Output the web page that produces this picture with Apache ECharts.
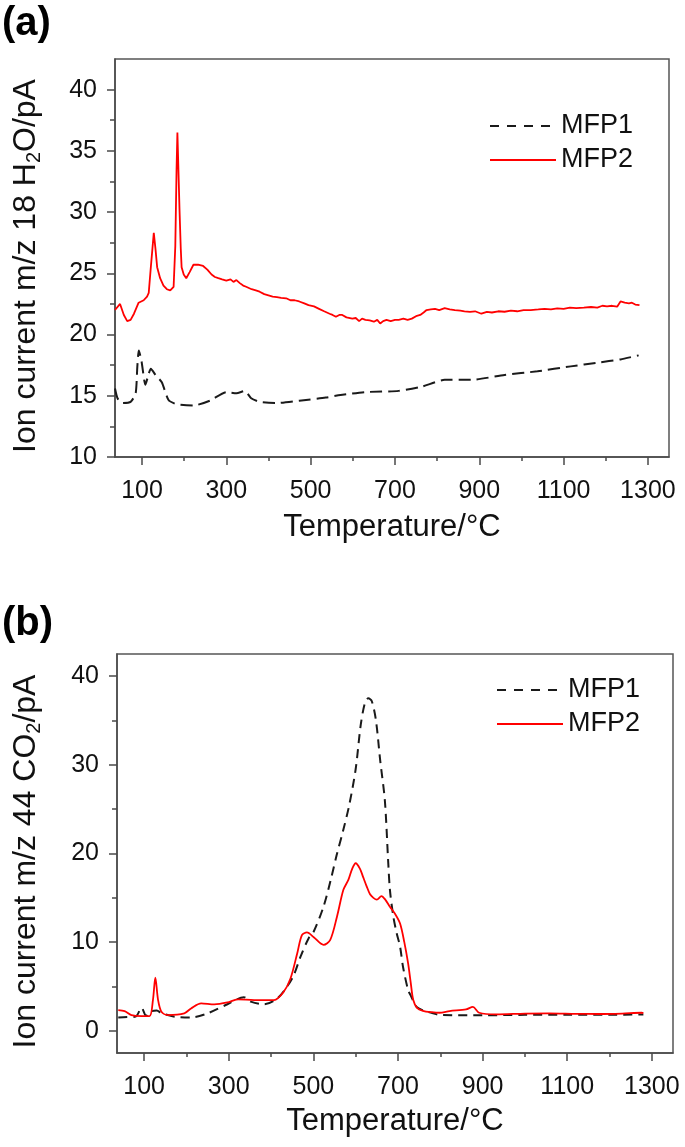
<!DOCTYPE html>
<html>
<head>
<meta charset="utf-8">
<script src="https://cdn.jsdelivr.net/npm/echarts@6/dist/echarts.min.js"></script>
<style>
html,body{margin:0;padding:0;background:#fff;}
#c{width:685px;height:1147px;}
</style>
</head>
<body>
<div id="c"></div>
<script>
// ---------- data ----------
// (a) m/z 18 H2O
const tempA1 = [36,42,53,73,85,89,92.5,99,108,116,121,132,147,163,183,222,261,300,324,344,359,379,418,473,536,571,630,709,764,818,881,960,1038,1117,1180,1235,1278];
const ionA1  = [15.6,14.8,14.4,14.5,15.2,17.4,18.7,17.8,15.9,16.8,17.2,16.7,16.1,14.65,14.3,14.2,14.6,15.3,15.2,15.4,14.8,14.5,14.4,14.6,14.85,15.06,15.3,15.4,15.74,16.3,16.3,16.7,17.0,17.4,17.7,17.97,18.3];

const tempA2 = [36,48,57,65,73,81,92,104,112,116,121,128,132,136,143,151,159,167,175,179,182,184,186,189,192,194,199,205,213,222,233,245,255,265,273,281,290,300,310,317,324,332,340,347,360,370,379,390,400,410,420,430,442,452,462,473,485,495,508,520,532,545,552,560,568,575,585,599,607,615,622,630,640,650,658,665,672,680,690,700,709,720,730,740,750,760,768,775,785,795,805,818,830,842,855,865,878,890,905,918,930,945,960,975,990,1005,1022,1040,1055,1070,1085,1100,1115,1130,1148,1165,1180,1192,1203,1215,1227,1235,1245,1255,1262,1270,1280];
const ionA2  = [22.0,22.5,21.6,21.1,21.2,21.7,22.6,22.8,23.1,23.4,25.5,28.3,27.0,25.5,24.6,24.0,23.7,23.6,23.9,27.2,33.5,36.5,34.0,30.2,27.0,25.5,24.9,24.6,25.1,25.7,25.7,25.6,25.3,24.9,24.7,24.6,24.5,24.4,24.5,24.3,24.45,24.2,24.0,23.9,23.7,23.6,23.5,23.3,23.2,23.1,23.05,23.0,22.96,22.8,22.8,22.7,22.55,22.4,22.3,22.1,21.9,21.7,21.6,21.45,21.6,21.6,21.4,21.3,21.35,21.1,21.3,21.2,21.15,21.05,21.2,20.9,21.1,21.2,21.1,21.2,21.2,21.3,21.2,21.3,21.5,21.6,21.8,22.0,22.05,22.1,22.0,22.15,22.05,22.0,21.95,21.9,21.85,21.9,21.7,21.85,21.8,21.9,21.86,21.95,21.9,22.0,22.0,22.05,22.1,22.05,22.14,22.1,22.2,22.15,22.2,22.25,22.2,22.35,22.3,22.35,22.27,22.7,22.6,22.55,22.6,22.45,22.4];

// (b) m/z 44 CO2
const tempB1 = [39,60,80,94,105,117,130,141,172,211,250,297,336,352,383,415,438,454,470,489,501,524,541,555,570,585,600,612,622,630,638,648,658,669,677,681,689,697,705,712,724,730,744,760,783,800,900,1000,1100,1200,1280];
const ionB1  = [1.5,1.55,1.6,2.6,1.7,2.2,2.3,2.0,1.6,1.5,1.97,3.0,3.8,3.3,3.0,3.66,5.0,6.3,8.4,10.45,11.2,14.0,17.0,19.8,22.5,25.5,29.5,34.5,37.0,37.5,37.2,35.0,30.5,26.0,19.0,15.9,12.9,11.0,9.5,7.2,4.6,4.0,2.7,2.3,1.97,1.8,1.75,1.8,1.8,1.8,1.85];

const tempB2 = [39,54,70,94,113,121,126.6,133,141,156,195,211,235,266,297,321,360,407,430,446,462,473,485,501,524,540,556,571,583,592,600,610,618,626,634,642,650,661,670,681,693,705,715,724,730,736,745,759,780,798,822,861,877,892,932,1000,1057,1120,1175,1230,1276,1280];
const ionB2  = [2.34,2.23,1.78,1.66,1.66,3.5,6.0,3.5,2.15,1.78,1.97,2.53,3.1,2.98,3.2,3.55,3.47,3.47,4.4,5.9,8.75,10.8,11.1,10.56,9.7,10.26,12.9,15.9,17.05,18.3,18.9,18.3,17.3,16.3,15.4,15.0,14.8,15.2,14.8,14.0,13.2,12.1,10.0,7.6,5.5,3.5,2.6,2.26,2.1,2.04,2.23,2.42,2.7,2.04,1.85,1.95,1.97,1.92,1.9,1.95,2.04,2.0];

// ticks / labels
const xLabelValues = [100,300,500,700,900,1100,1300];
const xMinorValues = [200,400,600,800,1000,1200];
const yLabelsA = [10,15,20,25,30,35,40];
const yMinorA  = [12.5,17.5,22.5,27.5,32.5,37.5];
const yLabelsB = [0,10,20,30,40];
const yMinorB  = [5,15,25,35];
const seriesNames = ['MFP1', 'MFP2'];

const zip = (t, v) => t.map((x, i) => [x, v[i]]);

// ---------- styling ----------
const FONT = "'Liberation Sans', Arial, Helvetica, sans-serif";
const AXC = '#4a4a4a';
const TXT = '#111';
const X_MIN = 36, X_MAX = 1350;
const plain = v => String(v);

function xMain(grid, gap) {
  return {
    type: 'value', gridIndex: grid, min: X_MIN, max: X_MAX, position: 'bottom',
    name: 'Temperature/°C', nameLocation: 'middle', nameGap: gap,
    nameTextStyle: {fontFamily: FONT, fontSize: 31, color: TXT},
    axisLine: {show: true, onZero: false, lineStyle: {color: AXC, width: 1.5}},
    axisTick: {show: true, length: 8, customValues: xLabelValues, lineStyle: {color: AXC, width: 1.5}},
    axisLabel: {show: true, customValues: xLabelValues, formatter: plain, margin: 22, fontFamily: FONT, fontSize: 25, color: TXT},
    splitLine: {show: false}
  };
}
function xMinor(grid) {
  return {
    type: 'value', gridIndex: grid, min: X_MIN, max: X_MAX, position: 'bottom',
    axisLine: {show: false, onZero: false},
    axisTick: {show: true, length: 4, customValues: xMinorValues, lineStyle: {color: AXC, width: 1.5}},
    axisLabel: {show: false}, splitLine: {show: false}
  };
}
function yMain(grid, min, max, labels, name, gap) {
  return {
    type: 'value', gridIndex: grid, min: min, max: max, position: 'left',
    name: name, nameLocation: 'middle', nameGap: gap,
    nameTextStyle: {fontFamily: FONT, fontSize: 32, color: TXT, lineHeight: 36, padding: [0, 16, 0, 0],
      rich: {s: {fontFamily: FONT, fontSize: 20, lineHeight: 20, verticalAlign: 'bottom', color: TXT}}},
    axisLine: {show: true, onZero: false, lineStyle: {color: AXC, width: 1.5}},
    axisTick: {show: true, length: 8, customValues: labels, lineStyle: {color: AXC, width: 1.5}},
    axisLabel: {show: true, customValues: labels, formatter: plain, margin: 18, fontFamily: FONT, fontSize: 25, color: TXT},
    splitLine: {show: false}
  };
}
function yMinor(grid, min, max, vals) {
  return {
    type: 'value', gridIndex: grid, min: min, max: max, position: 'left',
    axisLine: {show: false, onZero: false},
    axisTick: {show: true, length: 5, customValues: vals, lineStyle: {color: AXC, width: 1.5}},
    axisLabel: {show: false}, splitLine: {show: false}
  };
}

const dashedA = {color: '#1a1a1a', width: 2, type: [12, 6]};
const dashedB = {color: '#1a1a1a', width: 2, type: [9, 6]};
const solid = {color: '#ff0000', width: 1.8};

function legend(left, top) {
  return {
    left: left, top: top, orient: 'vertical', itemWidth: 66, itemHeight: 14, itemGap: 4,
    itemStyle: {opacity: 0},
    textStyle: {fontFamily: FONT, fontSize: 27, color: TXT, lineHeight: 30},
    data: [
      {name: seriesNames[0], lineStyle: {type: [9, 8], width: 2, color: '#1a1a1a'}},
      {name: seriesNames[1], lineStyle: {type: 'solid', width: 2, color: '#ff0000'}}
    ],
    selectedMode: false
  };
}

const option = {
  animation: false,
  backgroundColor: '#fff',
  grid: [
    {left: 111, top: 59, width: 558, height: 398, show: true, borderColor: '#555', borderWidth: 1.5, backgroundColor: 'transparent'},
    {left: 113, top: 654, width: 560, height: 399, show: true, borderColor: '#555', borderWidth: 1.5, backgroundColor: 'transparent'}
  ],
  xAxis: [xMain(0, 55), xMinor(0), xMain(1, 53), xMinor(1)],
  yAxis: [
    yMain(0, 10, 42.5, yLabelsA, 'Ion current m/z 18 H{s|2}O/pA', 71), yMinor(0, 10, 42.5, yMinorA),
    yMain(1, -2.5, 42.5, yLabelsB, 'Ion current m/z 44 CO{s|2}/pA', 73), yMinor(1, -2.5, 42.5, yMinorB)
  ],
  legend: [legend(484, 106), legend(491, 670)],
  graphic: [
    {type: 'text', left: 2, top: 4, style: {text: '(a)', font: 'bold 40px ' + FONT, fill: '#000'}},
    {type: 'text', left: 2, top: 604, style: {text: '(b)', font: 'bold 40px ' + FONT, fill: '#000'}}
  ],
  series: [
    {name: seriesNames[0], type: 'line', xAxisIndex: 0, yAxisIndex: 0, data: zip(tempA1, ionA1), symbol: 'none', smooth: 0.2, lineStyle: dashedA, itemStyle: {color: '#1a1a1a'}, z: 3},
    {name: seriesNames[1], type: 'line', xAxisIndex: 0, yAxisIndex: 0, data: zip(tempA2, ionA2), symbol: 'none', lineStyle: solid, itemStyle: {color: '#ff0000'}, z: 4},
    {name: seriesNames[0], type: 'line', xAxisIndex: 2, yAxisIndex: 2, data: zip(tempB1, ionB1), symbol: 'none', smooth: 0.3, lineStyle: dashedB, itemStyle: {color: '#1a1a1a'}, z: 3},
    {name: seriesNames[1], type: 'line', xAxisIndex: 2, yAxisIndex: 2, data: zip(tempB2, ionB2), symbol: 'none', smooth: 0.3, lineStyle: solid, itemStyle: {color: '#ff0000'}, z: 4}
  ]
};

const chart = echarts.init(document.getElementById('c'), null, {renderer: 'canvas'});
chart.setOption(option);
</script>
</body>
</html>
